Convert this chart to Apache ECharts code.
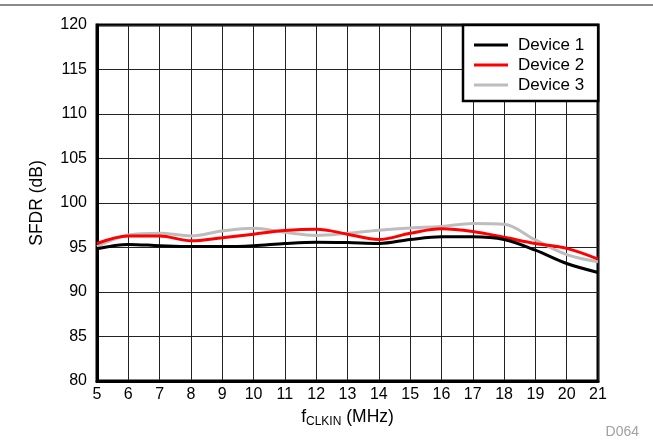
<!DOCTYPE html>
<html>
<head>
<meta charset="utf-8">
<script src="https://cdn.jsdelivr.net/npm/echarts@6/dist/echarts.min.js"></script>
<style>
html,body{margin:0;padding:0;background:#fff;}
#c{width:653px;height:445px;}
</style>
</head>
<body>
<div id="c"></div>
<script>
var freq = [5, 6, 7, 8, 9, 10, 11, 12, 13, 14, 15, 16, 17, 18, 19, 20, 21];
var device1 = [94.85, 95.35, 95.2, 95.1, 95.1, 95.2, 95.45, 95.6, 95.55, 95.45, 95.9, 96.2, 96.2, 95.9, 94.7, 93.2, 92.2];
var device2 = [95.45, 96.3, 96.3, 95.75, 96.1, 96.5, 96.9, 97.05, 96.5, 95.9, 96.6, 97.1, 96.8, 96.15, 95.45, 94.9, 93.7];
var device3 = [95.1, 96.4, 96.6, 96.3, 96.85, 97.15, 96.7, 96.35, 96.6, 96.95, 97.2, 97.35, 97.7, 97.6, 95.85, 94.2, 93.4];
var seriesNames = ['Device 1', 'Device 2', 'Device 3'];
var seriesColors = ['#000000', '#ff0000', '#bdbdbd'];
var yTicks = [80, 85, 90, 95, 100, 105, 110, 115, 120];

function pairs(ys) { return freq.map(function (x, i) { return [x, ys[i]]; }); }

var font = 'Liberation Sans, Arial, Helvetica, sans-serif';
var chart = echarts.init(document.getElementById('c'), null, {renderer: 'canvas'});
var allData = [device1, device2, device3];
chart.setOption({
  animation: false,
  backgroundColor: '#ffffff',
  textStyle: {fontFamily: font},
  grid: {left: 97, top: 25, width: 501, height: 356, show: true, borderColor: '#000', borderWidth: 3, backgroundColor: 'transparent'},
  legend: {
    orient: 'vertical', left: 463, top: 25,
    data: seriesNames,
    icon: 'rect',
    backgroundColor: '#fff', borderColor: '#000', borderWidth: 2.5, borderRadius: 0,
    padding: [10, 14, 6, 11],
    itemWidth: 34, itemHeight: 3, itemGap: 0,
    textStyle: {fontFamily: font, fontSize: 17, lineHeight: 20, color: '#000', padding: [0, 0, 0, 5]}
  },
  xAxis: {
    type: 'value', min: 5, max: 21, interval: 1,
    axisLine: {show: true, onZero: false, lineStyle: {color: '#000', width: 3}},
    axisTick: {show: false},
    splitLine: {show: true, lineStyle: {color: '#222', width: 1}},
    axisLabel: {fontFamily: font, fontSize: 16, color: '#000', margin: 6},
    name: '{a|f}{b|CLKIN}{a| (MHz)}',
    nameLocation: 'middle', nameGap: 21, nameMoveOverlap: false,
    nameTextStyle: {
      rich: {
        a: {fontFamily: font, fontSize: 17.5, color: '#000', height: 22},
        b: {fontFamily: font, fontSize: 12, color: '#000', padding: [9, 0, 0, 0], height: 22}
      }
    }
  },
  yAxis: {
    type: 'value', min: 80, max: 120, interval: 5,
    axisLine: {show: true, onZero: false, lineStyle: {color: '#000', width: 3}},
    axisTick: {show: false},
    splitLine: {show: true, lineStyle: {color: '#222', width: 1}},
    axisLabel: {fontFamily: font, fontSize: 16, color: '#000', margin: 10},
    name: 'SFDR (dB)', nameLocation: 'middle', nameGap: 51, nameRotate: 90,
    nameTextStyle: {fontFamily: font, fontSize: 17.5, color: '#000'}
  },
  graphic: [
    {type: 'rect', left: 0, top: 4, shape: {width: 653, height: 2}, style: {fill: '#8a8a8a'}, silent: true},
    {type: 'text', right: 14, top: 425, style: {text: 'D064', fill: '#a0a0a0', font: '14px ' + font}, silent: true}
  ],
  series: seriesNames.map(function (n, i) {
    return {
      name: n, type: 'line', data: pairs(allData[i]), smooth: 0.35, symbol: 'none',
      lineStyle: {color: seriesColors[i], width: 3}, itemStyle: {color: seriesColors[i]},
      z: 3 - i + 2
    };
  })
});
</script>
</body>
</html>
